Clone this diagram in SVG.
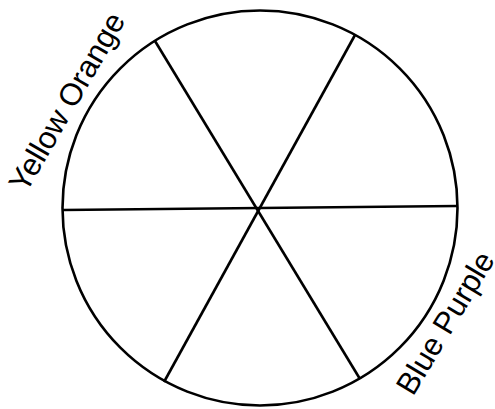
<svg xmlns="http://www.w3.org/2000/svg" width="495" height="409" viewBox="0 0 495 409">
<style>
.ln{stroke:#000;stroke-width:2.6;fill:none;stroke-linecap:butt}
.lbl{font-family:"Liberation Sans",Arial,sans-serif;font-size:31px;fill:#000}
</style>
<rect width="495" height="409" fill="#fff"/>
<g id="wheel">
<circle class="ln" cx="260" cy="208" r="197.5"/>
</g>
<g id="connectors">
<line class="ln" x1="63" y1="210" x2="457" y2="206"/>
<line class="ln" x1="155" y1="41" x2="360" y2="379"/>
<line class="ln" x1="355" y1="35" x2="164" y2="382"/>
</g>
<g id="label-yellow-orange">
<text class="lbl" transform="translate(26,194) rotate(-60)">Yellow Orange</text>
</g>
<g id="label-blue-purple">
<text class="lbl" transform="translate(413,397) rotate(-59)">Blue Purple</text>
</g>
</svg>
